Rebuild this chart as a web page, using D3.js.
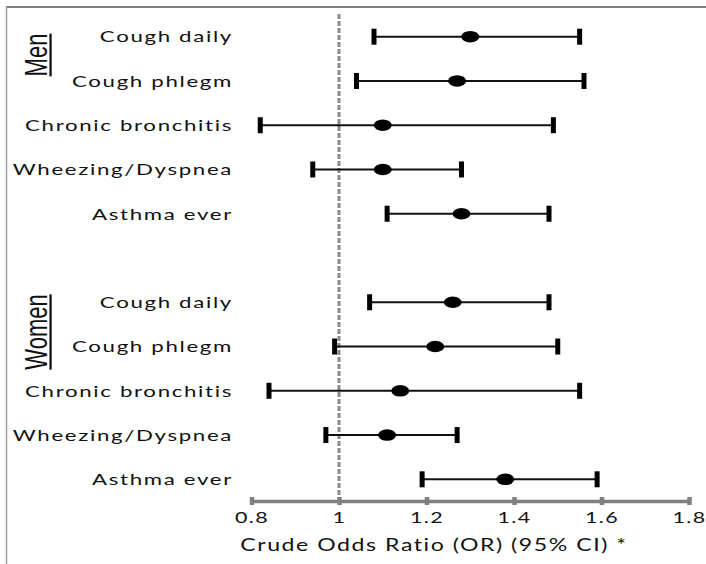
<!DOCTYPE html>
<html>
<head>
<meta charset="utf-8">
<script src="https://cdn.jsdelivr.net/npm/d3@7"></script>
<style>
  html, body { margin: 0; padding: 0; background: #fff; }
  svg { display: block; }
  text { font-family: Lato, "Open Sans", sans-serif; fill: #111; }
</style>
</head>
<body>
<svg id="chart" width="706" height="564"></svg>
<script>
// Outcome labels (same order for both groups)
const outcomes = ["Cough daily", "Cough phlegm", "Chronic bronchitis", "Wheezing/Dyspnea", "Asthma ever"];
const groups = ["Men", "Women"];

// Crude odds ratios with 95% confidence limits
const menOR    = [1.30, 1.27, 1.10, 1.10, 1.28];
const menLow   = [1.08, 1.04, 0.82, 0.94, 1.11];
const menHigh  = [1.55, 1.56, 1.49, 1.28, 1.48];
const womenOR   = [1.26, 1.22, 1.14, 1.11, 1.38];
const womenLow  = [1.07, 0.99, 0.84, 0.97, 1.19];
const womenHigh = [1.48, 1.50, 1.55, 1.27, 1.59];

const xTicks = [0.8, 1, 1.2, 1.4, 1.6, 1.8];
const refValue = 1;
const axisTitle = "Crude Odds Ratio (OR) (95% CI) *";

const rows = [];
outcomes.forEach((o, i) => rows.push({group: 0, slot: i, label: o, or: menOR[i], lo: menLow[i], hi: menHigh[i]}));
outcomes.forEach((o, i) => rows.push({group: 1, slot: i + 6, label: o, or: womenOR[i], lo: womenLow[i], hi: womenHigh[i]}));

const svg = d3.select("#chart");
const x = d3.scaleLinear().domain([0.8, 1.8]).range([251.5, 689]);
const y = d3.scaleLinear().domain([0, 10]).range([36.7, 479.3]);
const axisY = 501;
const stretch = 1.39;

// frame (top and left edges)
svg.append("line").attr("x1", 6).attr("x2", 706).attr("y1", 7).attr("y2", 7)
  .attr("stroke", "#7f7f7f").attr("stroke-width", 2);
svg.append("line").attr("x1", 6.5).attr("x2", 6.5).attr("y1", 7).attr("y2", 564)
  .attr("stroke", "#a0a0a0").attr("stroke-width", 1.5);

// reference line at OR = 1
svg.append("line")
  .attr("x1", x(refValue)).attr("x2", x(refValue))
  .attr("y1", 14).attr("y2", axisY - 2)
  .attr("stroke", "#8a8a8a").attr("stroke-width", 3)
  .attr("stroke-dasharray", "5,2");

// x axis
const axis = d3.axisBottom(x).tickValues(xTicks).tickFormat(d => String(d))
  .tickSizeOuter(0).tickSizeInner(4).tickPadding(0);
const gx = svg.append("g").attr("transform", `translate(0,${axisY})`).call(axis);
gx.select(".domain").attr("stroke", "#808080").attr("stroke-width", 3.5);
gx.selectAll(".tick line").attr("y1", -4).attr("y2", 4)
  .attr("stroke", "#808080").attr("stroke-width", 4.5);
gx.selectAll(".tick text")
  .attr("y", 22).attr("dy", 0)
  .attr("transform", `scale(1.34,1)`)
  .attr("font-size", 16).attr("letter-spacing", 1)
  .attr("fill", "#111")
  .style("font-family", "Lato, 'Open Sans', sans-serif");

// axis title
svg.append("g").attr("transform", `translate(434,551) scale(1.4,1)`)
  .append("text").attr("text-anchor", "middle")
  .attr("font-size", 16.5).attr("letter-spacing", 1.1)
  .text(axisTitle);

// row labels
svg.selectAll("g.rowlabel").data(rows).join("g")
  .attr("class", "rowlabel")
  .attr("transform", d => `translate(233,${y(d.slot)}) scale(${stretch},1)`)
  .append("text")
  .attr("text-anchor", "end").attr("dy", "0.36em")
  .attr("font-size", 16).attr("letter-spacing", 1.2)
  .text(d => d.label);

// group labels, rotated and underlined
const groupCenters = [55, 332];
const gl = svg.selectAll("g.grouplabel").data(groups).join("g")
  .attr("class", "grouplabel")
  .attr("transform", (d, i) => `translate(47,${groupCenters[i]}) rotate(-90) scale(1,1.42)`);
gl.append("text")
  .attr("text-anchor", "middle")
  .attr("font-size", 22)
  .style("font-family", "'Liberation Sans', Arial, sans-serif")
  .text(d => d);
gl.each(function () {
  const g = d3.select(this);
  const len = g.select("text").node().getComputedTextLength();
  g.append("line").attr("x1", -len / 2).attr("x2", len / 2)
    .attr("y1", 2.5).attr("y2", 2.5)
    .attr("stroke", "#111").attr("stroke-width", 1.6);
});

// confidence intervals
const bars = svg.selectAll("g.ci").data(rows).join("g").attr("class", "ci");
bars.append("line")
  .attr("x1", d => x(d.lo)).attr("x2", d => x(d.hi))
  .attr("y1", d => y(d.slot)).attr("y2", d => y(d.slot))
  .attr("stroke", "#111").attr("stroke-width", 2);
bars.append("rect")
  .attr("x", d => x(d.lo) - 2.5).attr("y", d => y(d.slot) - 8)
  .attr("width", 5).attr("height", 16).attr("fill", "#000");
bars.append("rect")
  .attr("x", d => x(d.hi) - 2.5).attr("y", d => y(d.slot) - 8)
  .attr("width", 5).attr("height", 16).attr("fill", "#000");
bars.append("ellipse")
  .attr("cx", d => x(d.or)).attr("cy", d => y(d.slot))
  .attr("rx", 9).attr("ry", 5.8).attr("fill", "#000");
</script>
</body>
</html>
